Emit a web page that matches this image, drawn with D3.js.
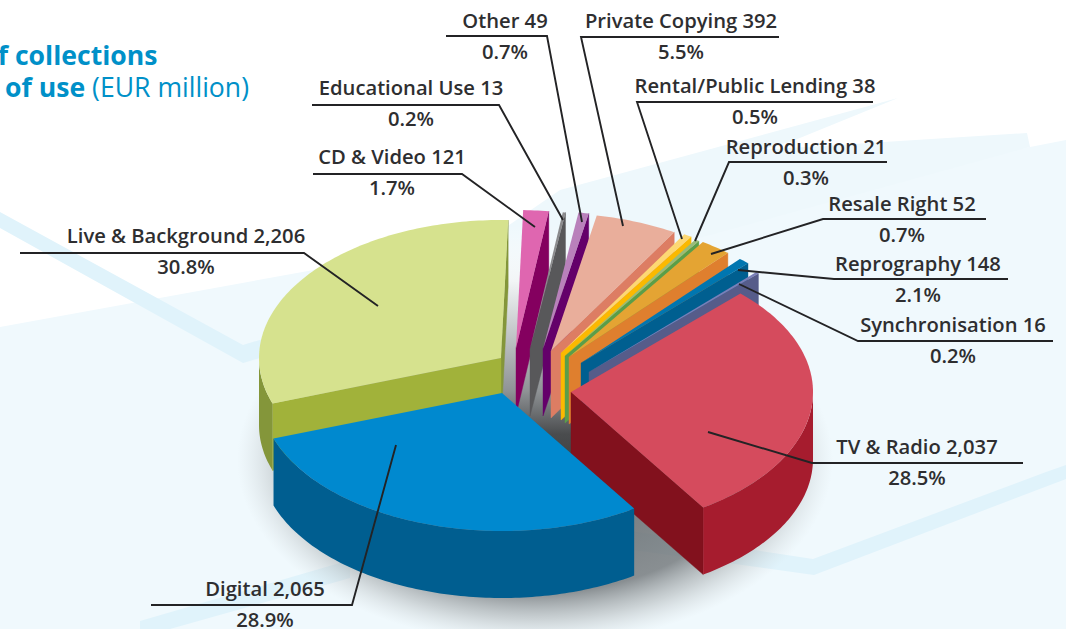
<!DOCTYPE html>
<html><head><meta charset="utf-8">
<script src="https://cdnjs.cloudflare.com/ajax/libs/d3/7.8.5/d3.min.js"></script>
<style>html,body{margin:0;padding:0;background:#fff;overflow:hidden}svg{display:block}
text{font-family:"Open Sans",Lato,sans-serif}</style></head><body>
<script>
// ---- data ----
const categories = ["CD & Video","Educational Use","Other","Private Copying","Rental/Public Lending","Reproduction","Resale Right","Reprography","Synchronisation","TV & Radio","Digital","Live & Background"];
const printedValues = ["121","13","49","392","38","21","52","148","16","2,037","2,065","2,206"];
const percents = ["1.7%","0.2%","0.7%","5.5%","0.5%","0.3%","0.7%","2.1%","0.2%","28.5%","28.9%","30.8%"];
// Wedge sizes as drawn: in the picture the Resale Right wedge is the wide one and the Reprography wedge the narrow one.
const wedgeValues = [121,13,49,392,38,21,148,52,16,2037,2065,2206];

// ---- styling / layout ----
const topColors  = ["#df66b0","#8b8b8d","#b981bb","#e9ae9b","#fdd874","#99bb79","#e4a433","#0076b0","#7a7fb8","#d54b5d","#0089cf","#d6e28e"];
const endColors  = ["#84005f","#58585a","#64006a","#dd7d63","#fbb900","#5a9e49","#df7f2e","#005f90","#565c8a","#82111d","#005e90","#84963a"];
const wallColors = ["#84005f","#58585a","#64006a","#dd7d63","#fbb900","#5a9e49","#df7f2e","#005f90","#565c8a","#a61c2e","#005e90","#84963a"];
const startColors= ["#84005f","#58585a","#64006a","#dd7d63","#fbb900","#5a9e49","#df7f2e","#005f90","#565c8a","#82111d","#005e90","#a1b23a"];
const pieCentre = [525,375], radiusX = 242, radiusY = 138, depth = 67;
const sliceOffsets = [[-9,-27],[5,-26],[18,-26],[26,-24],[36,-22],[40,-19],[44,-18],[56,-12],[64,-3],[46,17],[-23,18],[-24,-17]];
const drawOrder = [11,0,1,2,3,4,5,6,7,8,9,10];
const labelCentres = [[392,157],[411,88],[505,21],[681,21],[755,86],[806,147],[902,204],[918,264],[953,325],[917,447],[265,589],[186,236]];
const leaderLines = [
 [[313,174],[462,174],[535,227]], [[312,105],[499,105],[563,220]], [[446,36],[547,36],[582,222]],
 [[779,37],[581,37],[623,226]],   [[873,102],[637,102],[682,239]], [[887,162],[729,162],[695,241]],
 [[986,219],[823,219],[711,254]], [[1008,279],[834,279],[738,270]], [[1053,341],[858,341],[739,284]],
 [[1023,463],[812,463],[708,432]],[[151,605],[352,605],[396,445]],  [[20,253],[304,253],[378,306]]];

const W = 1066, H = 629;
const svg = d3.select("body").append("svg").attr("width",W).attr("height",H);
const defs = svg.append("defs");
const line = d3.line(), polar = Math.PI/180;

// ---- background ----
const bg = svg.append("g");
const poly = (pts,fill) => bg.append("path").attr("d",line(pts)+"Z").attr("fill",fill);
poly([[0,327],[330,267],[760,200],[1030,147],[1066,140],[1066,629],[0,629]],"#f0f9fd");
poly([[560,190],[898,98],[790,142],[760,150],[1027,133],[1030,147],[245,363],[243,345],[400,300]],"#eef8fc");
poly([[0,212],[243,345],[320,322],[320,340],[243,363],[0,228]],"#e0f3fb");
poly([[560,520],[813,559],[1046,472],[1066,465],[1066,479],[814,575],[560,540]],"#e0f3fb");
poly([[140,621],[350,560],[350,578],[170,629],[140,629]],"#e0f3fb");

// ---- title ----
const title = svg.append("g").attr("fill","#0090c8").attr("font-size",26.6);
title.append("text").attr("x",157.5).attr("y",65).attr("text-anchor","end").attr("font-weight",700).text("f collections");
const t2 = title.append("text").attr("x",249).attr("y",97).attr("text-anchor","end");
t2.append("tspan").attr("font-weight",700).text("of use ");
t2.append("tspan").attr("font-weight",400).text("(EUR million)");

// ---- shadows ----
const sg = defs.append("radialGradient").attr("id","shadow");
[[0,"#5d6265",.95],[.72,"#6f7477",.8],[.86,"#a5aaac",.5],[1,"#c8cdcf",0]].forEach(s=>sg.append("stop").attr("offset",s[0]).attr("stop-color",s[1]).attr("stop-opacity",s[2]));
svg.append("ellipse").attr("cx",535).attr("cy",460).attr("rx",298).attr("ry",185).attr("fill","url(#shadow)");
const cg = defs.append("linearGradient").attr("id","core").attr("x1",0).attr("x2",0).attr("y1",0).attr("y2",1);
[[0,"#ffffff",0],[.22,"#f2f5f6",1],[.65,"#8f9396",1],[.82,"#4a4c4e",1],[1,"#3a3c3e",1]].forEach(s=>cg.append("stop").attr("offset",s[0]).attr("stop-color",s[1]).attr("stop-opacity",s[2]));
svg.append("path").attr("d",line([[504,225],[560,225],[600,350],[610,450],[560,480],[500,450]])+"Z").attr("fill","url(#core)");

// ---- exploded 3D pie ----
const arcs = d3.pie().sort(null).value(d=>d).startAngle(1.7*polar).endAngle(361.7*polar)(wedgeValues);
const px = (c,a) => [c[0]+radiusX*Math.sin(a), c[1]-radiusY*Math.cos(a)];
const sampled = (c,a0,a1) => { const n=Math.max(2,Math.ceil(Math.abs(a1-a0)/(polar))); return d3.range(n+1).map(i=>px(c,a0+(a1-a0)*i/n)); };
const down = p => [p[0],p[1]+depth];
const pieG = svg.append("g");
drawOrder.forEach(i=>{
  const a = arcs[i], c = [pieCentre[0]+sliceOffsets[i][0], pieCentre[1]+sliceOffsets[i][1]];
  const g = pieG.append("g").attr("data-name",categories[i]);
  const face = (ang,col)=>{ const e=px(c,ang);
    g.append("path").attr("d",line([c,e,down(e),down(c)])+"Z").attr("fill",col).attr("stroke",col).attr("stroke-width",.4); };
  if(Math.sin(a.endAngle)>0) face(a.endAngle,endColors[i]);
  if(Math.sin(a.startAngle)<0) face(a.startAngle,startColors[i]);
  const w0=Math.max(a.startAngle,Math.PI/2), w1=Math.min(a.endAngle,3*Math.PI/2);
  if(w1>w0){ const top=sampled(c,w0,w1);
    g.append("path").attr("d",line(top.concat(top.slice().reverse().map(down)))+"Z").attr("fill",wallColors[i]); }
  g.append("path").attr("d",line([c].concat(sampled(c,a.startAngle,a.endAngle)))+"Z").attr("fill",topColors[i]);
});

// ---- leaders & labels ----
const lab = svg.append("g");
categories.forEach((name,i)=>{
  lab.append("path").attr("d",line(leaderLines[i])).attr("fill","none").attr("stroke","#232325").attr("stroke-width",1.9);
  const [x,y]=labelCentres[i];
  lab.append("text").attr("x",x).attr("y",y+7).attr("text-anchor","middle").attr("font-size",20.2).attr("font-weight",600).attr("fill","#2e2e30").text(name+" "+printedValues[i]);
  lab.append("text").attr("x",x).attr("y",y+38).attr("text-anchor","middle").attr("font-size",20.2).attr("font-weight",600).attr("fill","#2e2e30").text(percents[i]);
});
</script></body></html>
